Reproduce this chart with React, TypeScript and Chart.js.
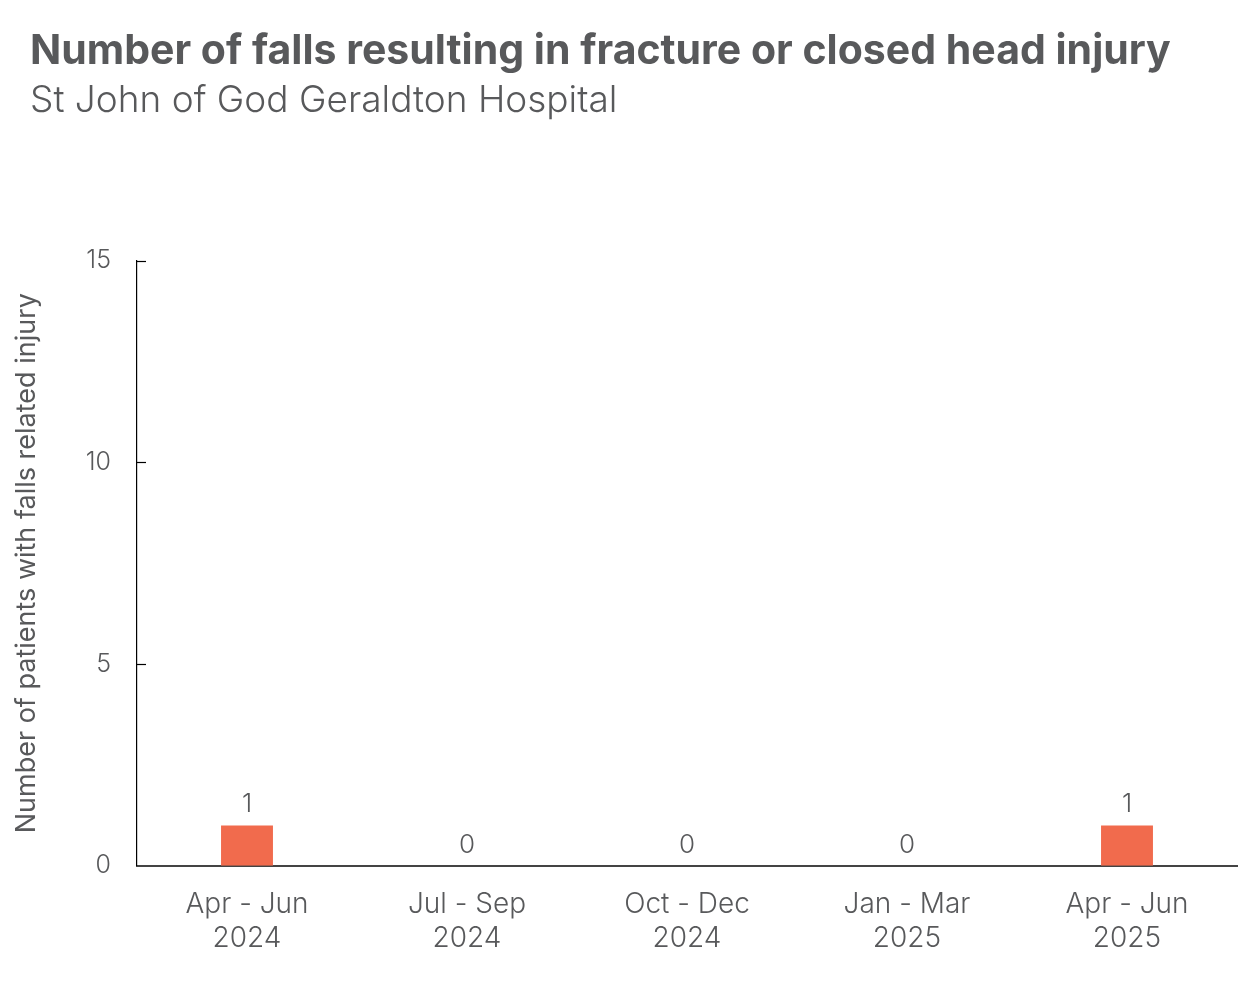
import React, { useEffect, useRef } from "react";
import { Chart, registerables } from "chart.js";

Chart.register(...registerables);

const categories: string[][] = [
  ["Apr - Jun", "2024"],
  ["Jul - Sep", "2024"],
  ["Oct - Dec", "2024"],
  ["Jan - Mar", "2025"],
  ["Apr - Jun", "2025"],
];
const falls: number[] = [1, 0, 0, 0, 1];
const yTicks: number[] = [0, 5, 10, 15];

const TITLE = "Number of falls resulting in fracture or closed head injury";
const SUBTITLE = "St John of God Geraldton Hospital";
const Y_TITLE = "Number of patients with falls related injury";

const FONT = "Inter, Roboto, 'Noto Sans', sans-serif";
const TEXT = "#58595b";
const BAR = "#f16b4d";

const valueLabels = {
  id: "valueLabels",
  afterDatasetsDraw(chart: any) {
    const ctx = chart.ctx;
    const meta = chart.getDatasetMeta(0);
    ctx.save();
    ctx.font = `300 26px ${FONT}`;
    ctx.fillStyle = TEXT;
    ctx.textAlign = "center";
    ctx.textBaseline = "bottom";
    meta.data.forEach((el: any, i: number) => {
      ctx.fillText(String(falls[i]), el.x, el.y - 8);
    });
    ctx.restore();
  },
};

const innerTicks = {
  id: "innerTicks",
  afterDraw(chart: any) {
    const y = chart.scales.y;
    const ctx = chart.ctx;
    ctx.save();
    ctx.strokeStyle = "#000";
    ctx.lineWidth = 1.2;
    y.ticks.forEach((t: any) => {
      if (t.value === 0) return;
      const py = Math.round(y.getPixelForValue(t.value)) + 0.5;
      ctx.beginPath();
      ctx.moveTo(y.right, py);
      ctx.lineTo(y.right + 9, py);
      ctx.stroke();
    });
    ctx.restore();
  },
};

export default function App() {
  const ref = useRef<HTMLCanvasElement>(null);
  useEffect(() => {
    document.body.style.margin = "0";
    const chart = new Chart(ref.current!, {
      type: "bar",
      data: {
        labels: categories,
        datasets: [
          {
            data: falls,
            backgroundColor: BAR,
            barPercentage: 0.236,
            categoryPercentage: 1,
          },
        ],
      },
      options: {
        responsive: false,
        animation: false,
        layout: { padding: { left: 30, right: 23, top: 0, bottom: 4 } },
        plugins: {
          legend: { display: false },
          tooltip: { enabled: false },
          title: {
            display: true,
            text: TITLE,
            align: "start",
            color: TEXT,
            font: { family: FONT, size: 41, weight: "bold" },
            padding: { top: 27, bottom: 2 },
          },
          subtitle: {
            display: true,
            text: SUBTITLE,
            align: "start",
            color: TEXT,
            font: { family: FONT, size: 37, weight: "300" },
            padding: { top: 0, bottom: 138 },
          },
        },
        scales: {
          x: {
            grid: { display: false, drawTicks: false },
            border: { display: true, color: "#444", width: 2 },
            ticks: {
              color: TEXT,
              font: { family: FONT, size: 28, weight: "300" },
              padding: 22,
              maxRotation: 0,
            },
          },
          y: {
            min: 0,
            max: 15,
            afterBuildTicks(scale: any) {
              scale.ticks = yTicks.map((v) => ({ value: v }));
            },
            afterFit(scale: any) {
              scale.width = 107;
            },
            grid: { display: false, drawTicks: false },
            border: { display: true, color: "#000", width: 1.2 },
            ticks: {
              color: TEXT,
              font: { family: FONT, size: 25, weight: "300" },
              padding: 26,
            },
            title: {
              display: true,
              text: Y_TITLE,
              color: TEXT,
              font: { family: FONT, size: 27, weight: "normal" },
              padding: { top: -19, bottom: 0 },
            },
          },
        },
      },
      plugins: [valueLabels, innerTicks],
    });
    return () => chart.destroy();
  }, []);
  return <canvas ref={ref} width={1260} height={981} />;
}
